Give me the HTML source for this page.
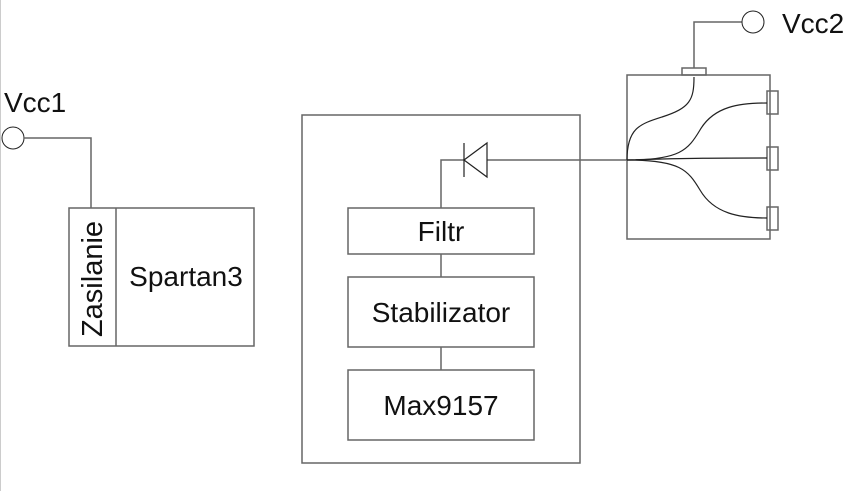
<!DOCTYPE html>
<html><head><style>html,body{margin:0;padding:0;background:#fff}svg{display:block}</style></head>
<body>
<svg width="868" height="491" viewBox="0 0 868 491" xmlns="http://www.w3.org/2000/svg" font-family="Liberation Sans, sans-serif" fill="none">
<line x1="0.5" y1="0" x2="0.5" y2="491" stroke="#ccc" stroke-width="1"/>
<g stroke="#666" stroke-width="1.5">
<circle cx="13" cy="138" r="11" stroke="#222" stroke-width="1"/>
<polyline points="24,138 91,138 91,208"/>
<rect x="69" y="208" width="185" height="138"/>
<line x1="116" y1="208" x2="116" y2="346"/>
<rect x="302" y="115" width="278" height="348"/>
<rect x="348" y="208" width="186" height="46"/>
<rect x="348" y="277" width="186" height="70"/>
<rect x="348" y="370" width="186" height="70"/>
<line x1="441" y1="254" x2="441" y2="277"/>
<line x1="441" y1="347" x2="441" y2="370"/>
<polyline points="464,160 441,160 441,208"/>
<line x1="487" y1="160" x2="627" y2="160"/>
<rect x="627" y="75" width="143" height="164"/>
<rect x="682" y="68" width="24" height="7"/>
<polyline points="694,68 694,22 742,22"/>
<rect x="767" y="91" width="11" height="23"/>
<rect x="767" y="147" width="11" height="23"/>
<rect x="767" y="207" width="11" height="23"/>
</g>
<g stroke="#222" stroke-width="1.2">
<line x1="464" y1="143" x2="464" y2="177"/>
<polygon points="464,160 487,143 487,177"/>
<circle cx="753" cy="22" r="11" stroke-width="1"/>
<path d="M627,160 C627,128 640,124 662,117 C690,108 694,100 694,77"/>
<path d="M627,160 C680,160 688,150 700,130 C714,106 740,103 767,103"/>
<path d="M627,160 C690,158 720,158 767,158"/>
<path d="M627,160 C680,160 688,170 700,190 C714,214 740,218 767,218"/>
</g>
<g fill="#111" font-size="28">
<text x="4" y="112">Vcc1</text>
<text x="782" y="33">Vcc2</text>
<text x="186" y="286" text-anchor="middle">Spartan3</text>
<text x="441" y="241" text-anchor="middle">Filtr</text>
<text x="441" y="322" text-anchor="middle">Stabilizator</text>
<text x="441" y="415" text-anchor="middle">Max9157</text>
<text transform="translate(102,279) rotate(-90)" text-anchor="middle" font-size="29">Zasilanie</text>
</g>
</svg>
</body></html>
